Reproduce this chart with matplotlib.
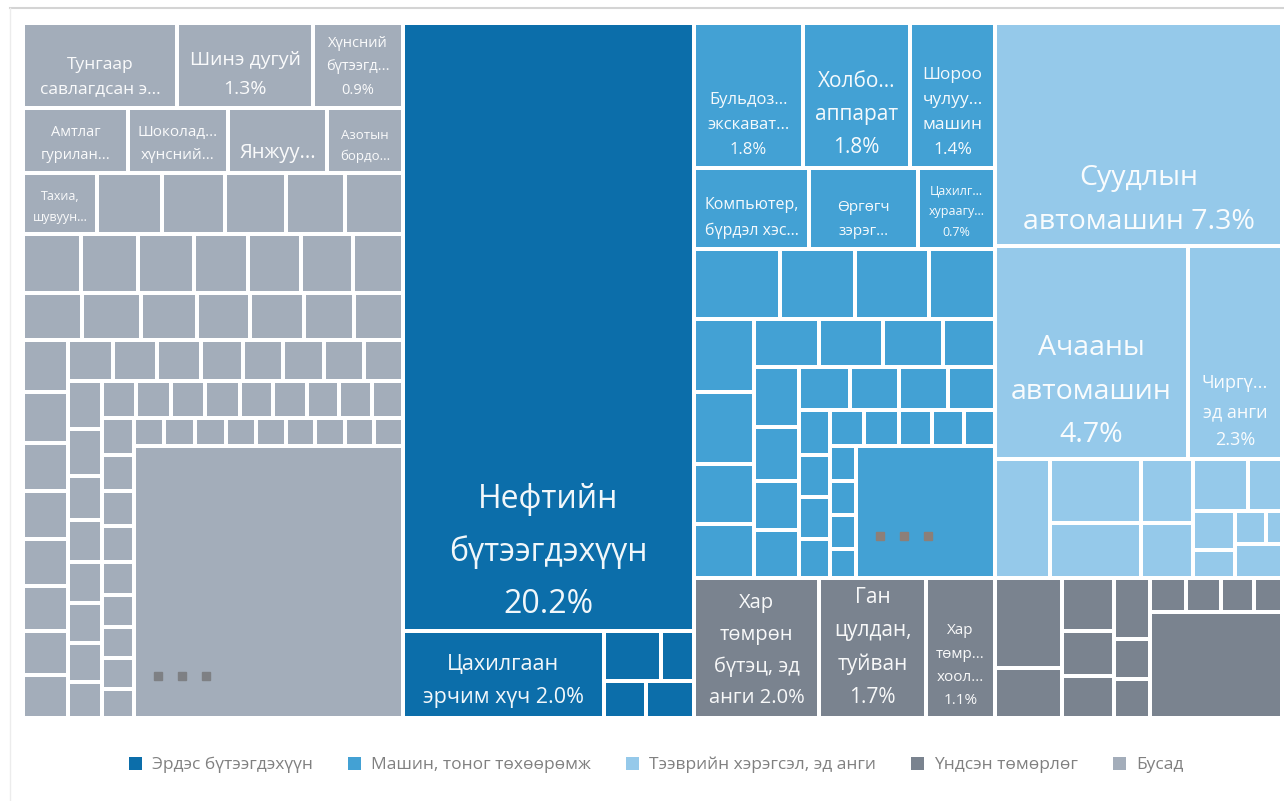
import matplotlib.pyplot as plt
from matplotlib.patches import Rectangle, Patch
from matplotlib.lines import Line2D

plt.rcParams['font.family'] = ['Open Sans', 'DejaVu Sans']

# legend groups (legend order)
groups = ['Эрдэс бүтээгдэхүүн', 'Машин, тоног төхөөрөмж',
          'Тээврийн хэрэгсэл, эд анги', 'Үндсэн төмөрлөг', 'Бусад']
group_colors = ['#0C6EAA', '#43A1D4', '#95C9EA', '#7A838F', '#A3ADBA']

# share of total, % (last item of each group = rest)
busad_values = [1.49, 1.31, 0.87,
                0.79, 0.75, 0.75, 0.57,
                0.51, 0.45, 0.43, 0.42, 0.405, 0.40,
                0.39, 0.39, 0.38, 0.365, 0.36, 0.35, 0.34,
                0.32, 0.315, 0.30, 0.29, 0.29, 0.266, 0.266,
                0.267, 0.265, 0.248, 0.246, 0.242, 0.232, 0.228, 0.221,
                0.211, 0.206, 0.206, 0.197, 0.192, 0.192, 0.187, 0.183,
                0.183, 0.181, 0.171, 0.163, 0.157, 0.155, 0.150, 0.138,
                0.144, 0.144, 0.144, 0.144, 0.140, 0.140, 0.135, 0.135, 0.131,
                0.133, 0.131, 0.129, 0.127, 0.121, 0.117, 0.113, 0.110, 0.106,
                0.100, 0.100, 0.099, 0.098, 0.097, 0.096, 0.095, 0.095, 0.094,
                8.35]
busad_labels = ['Тунгаар\nсавлагдсан э...', 'Шинэ дугуй\n1.3%', 'Хүнсний\nбүтээгд...\n0.9%',
                'Амтлаг\nгурилан...', 'Шоколад...\nхүнсний...', 'Янжуу...', 'Азотын\nбордо...',
                'Тахиа,\nшувуун...']
busad_labels += [''] * (len(busad_values) - len(busad_labels))

erdes_values = [20.2, 2.0, 0.33, 0.19, 0.18, 0.20]
erdes_labels = ['Нефтийн\nбүтээгдэхүүн\n20.2%', 'Цахилгаан\nэрчим хүч 2.0%', '', '', '', '']

mashin_values = [1.8, 1.77, 1.4,
                 1.065, 1.01, 0.71,
                 0.688, 0.60, 0.592, 0.528,
                 0.50, 0.49, 0.41, 0.37,
                 0.366, 0.354, 0.337, 0.291,
                 0.309, 0.275, 0.255, 0.250,
                 0.248, 0.243, 0.236, 0.232,
                 0.161, 0.150, 0.150, 0.139,
                 0.140, 0.140, 0.136, 0.128, 0.127,
                 0.105, 0.102, 0.101, 0.086,
                 2.1]
mashin_labels = ['Бульдоз...\nэкскават...\n1.8%', 'Холбо...\nаппарат\n1.8%',
                 'Шороо\nчулуу...\nмашин\n1.4%', 'Компьютер,\nбүрдэл хэс...',
                 'Өргөгч\nзэрэг...', 'Цахилг...\nхураагу...\n0.7%']
mashin_labels += [''] * (len(mashin_values) - len(mashin_labels))

teever_values = [7.3, 4.7, 2.3, 0.754, 0.658, 0.576, 0.373, 0.326,
                 0.326, 0.198, 0.19, 0.14, 0.117, 0.062, 0.184]
teever_labels = ['Суудлын\nавтомашин 7.3%', 'Ачааны\nавтомашин\n4.7%', 'Чиргү...\nэд анги\n2.3%']
teever_labels += [''] * (len(teever_values) - len(teever_labels))

undsen_values = [2.0, 1.7, 1.1, 0.689, 0.383, 0.315, 0.267, 0.250,
                 0.251, 0.165, 0.160, 0.136, 0.136, 0.128, 0.109, 1.59]
undsen_labels = ['Хар\nтөмрөн\nбүтэц, эд\nанги 2.0%', 'Ган\nцулдан,\nтуйван\n1.7%',
                 'Хар\nтөмр...\nхоол...\n1.1%']
undsen_labels += [''] * (len(undsen_values) - len(undsen_labels))

# drawing order of the treemap: (values, labels, legend index)
tree = [(busad_values, busad_labels, 4),
        (erdes_values, erdes_labels, 0),
        (mashin_values, mashin_labels, 1),
        (teever_values, teever_labels, 2),
        (undsen_values, undsen_labels, 3)]

# row structure of the squarified layout: h = row across top, v = column at left
top_rows = ['v1', 'v1', 'h2', 'h1']
group_rows = [['h3', 'h4', 'h6', 'h7', 'h7', 'v8', 'h8', 'v8', 'h9', 'v9', 'h9', 'h1'],
              ['h1', 'v1', 'h2', 'v1', 'h1'],
              ['h3', 'h3', 'h4', 'v4', 'h4', 'v4', 'h4', 'v4', 'h5', 'v4', 'h1'],
              ['h1', 'h2', 'v1', 'v2', 'v2', 'h2', 'v2', 'h2', 'h1'],
              ['v1', 'v1', 'v1', 'v2', 'v3', 'v3', 'h4', 'h1']]

# label font sizes per (group, item)
font_sizes = {(0, 0): 12.5, (0, 1): 14, (0, 2): 10.5, (0, 3): 10.5, (0, 4): 11,
              (0, 5): 14.5, (0, 6): 9.5, (0, 7): 9,
              (1, 0): 23, (1, 1): 15.5,
              (2, 0): 12, (2, 1): 15, (2, 2): 12.5, (2, 3): 11.5, (2, 4): 11, (2, 5): 9,
              (3, 0): 20.5, (3, 1): 20.5, (3, 2): 13,
              (4, 0): 14.5, (4, 1): 15, (4, 2): 11}
dot_colors = {0: '#7E8084', 2: '#8C7F78'}


def layout(values, rows, x, y, w, h):
    rects = []
    i = 0
    rem = sum(values)
    for r in rows:
        n = int(r[1:])
        chunk = values[i:i + n]
        s = sum(chunk)
        if r[0] == 'h':
            t = h * s / rem
            cx = x
            for v in chunk:
                cw = w * v / s
                rects.append((cx, y, cw, t))
                cx += cw
            y += t
            h -= t
        else:
            t = w * s / rem
            cy = y
            for v in chunk:
                ch = h * v / s
                rects.append((x, cy, t, ch))
                cy += ch
            x += t
            w -= t
        rem -= s
        i += n
    return rects


W, H = 1259, 695
gap = 2
fig = plt.figure(figsize=(12.84, 8.01), dpi=100)
ax = fig.add_axes([23 / 1284, 1 - 718 / 801, W / 1284, H / 801])
ax.set_xlim(0, W)
ax.set_ylim(H, 0)
ax.axis('off')

group_rects = layout([sum(g[0]) for g in tree], top_rows, 0, 0, W, H)

for gi, ((vals, labels, ci), grect, rows) in enumerate(zip(tree, group_rects, group_rows)):
    rects = layout(vals, rows, *grect)
    for j, (x, y, w, h) in enumerate(rects):
        ax.add_patch(Rectangle((x + gap, y + gap), w - 2 * gap, h - 2 * gap,
                               facecolor=group_colors[ci], edgecolor='none'))
        if labels[j]:
            ax.text(x + w / 2, y + h - gap - 8, labels[j], ha='center', va='bottom',
                    multialignment='center', color='white', alpha=0.95,
                    fontsize=font_sizes.get((gi, j), 10), linespacing=1.75)
    if gi in dot_colors:
        x, y, w, h = rects[-1]
        xs = [x + gap + 22 + k * 24 for k in range(3)]
        ax.plot(xs, [y + h - gap - 40] * 3, 's', ms=6, color=dot_colors[gi])

handles = [Patch(facecolor=c, edgecolor='none') for c in group_colors]
fig.legend(handles, groups, loc='center', bbox_to_anchor=(656 / 1284, 1 - 765 / 801),
           ncol=5, frameon=False, fontsize=12.5, handlelength=0.75, handleheight=0.75,
           handletextpad=0.6, columnspacing=2.0, labelcolor='#808080')

# card border
fig.add_artist(Line2D([10 / 1284, 1], [1 - 8 / 801] * 2, color='#d4d4d4', lw=1.5))
fig.add_artist(Line2D([10 / 1284] * 2, [0, 1 - 8 / 801], color='#ececec', lw=1))

fig.savefig('out.png', dpi=100, facecolor='white')
